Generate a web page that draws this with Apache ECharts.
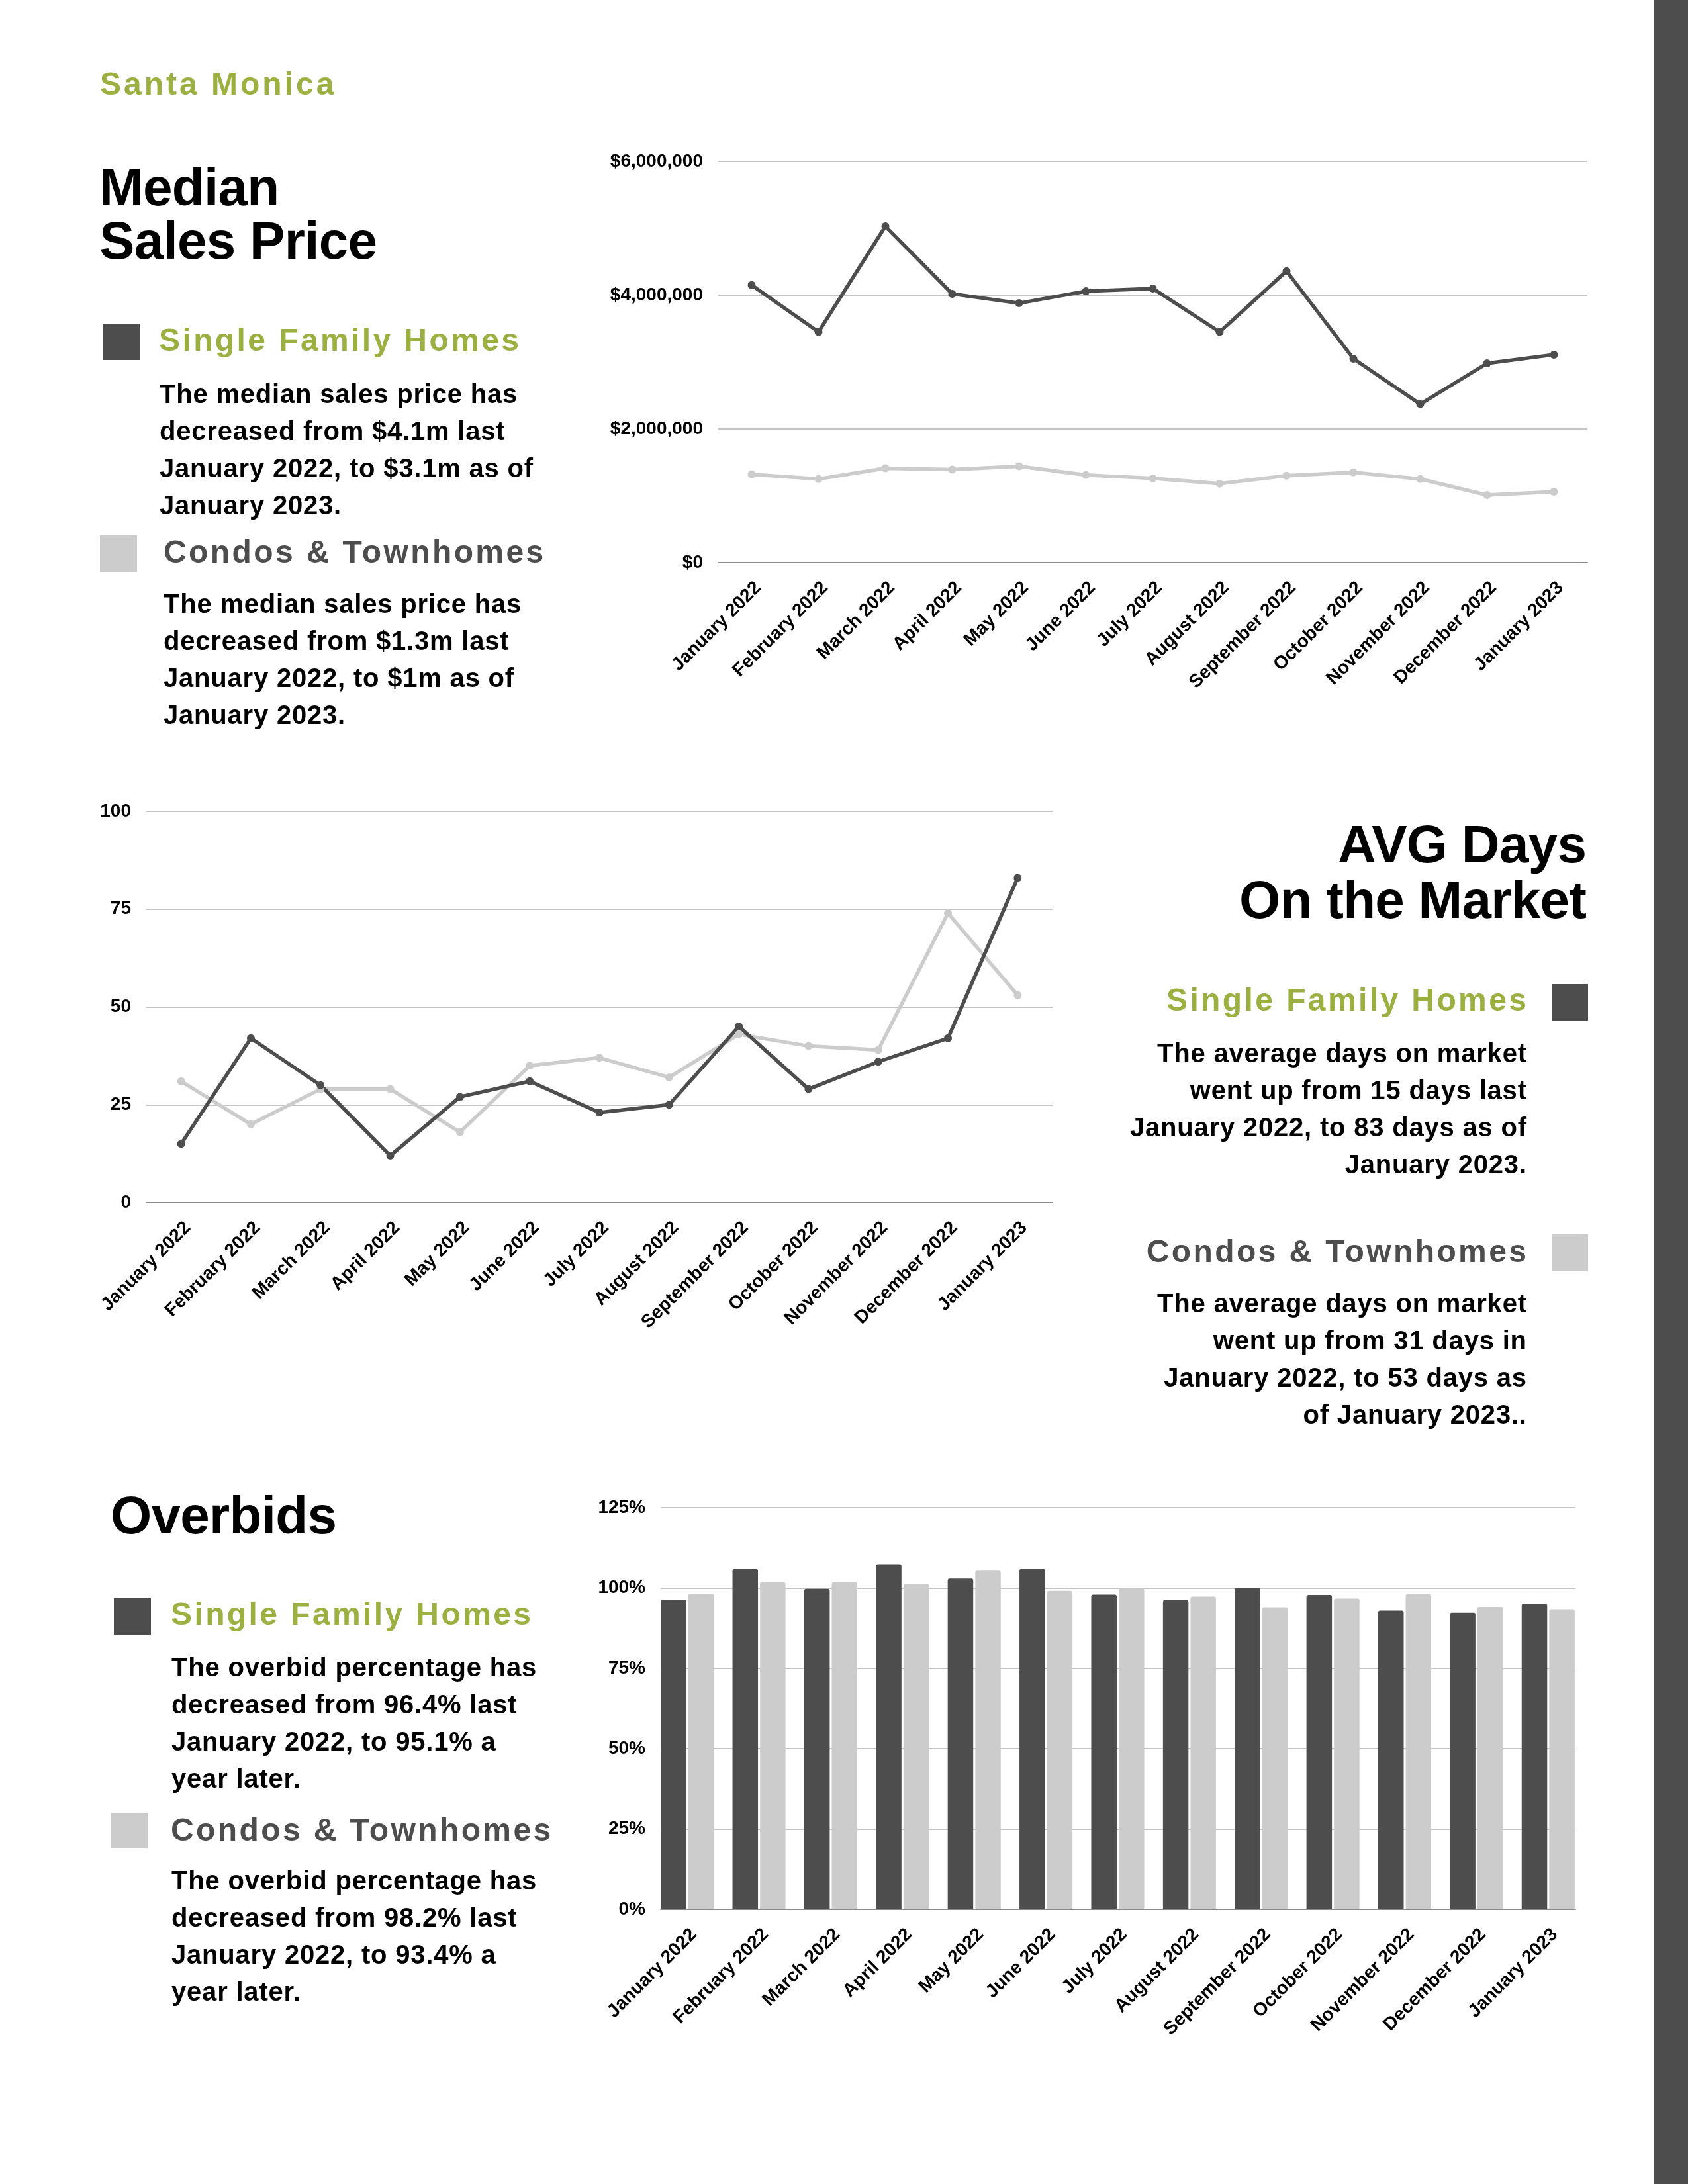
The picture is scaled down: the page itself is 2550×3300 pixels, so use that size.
<!DOCTYPE html>
<html><head><meta charset="utf-8">
<script src="https://cdn.jsdelivr.net/npm/echarts@6/dist/echarts.min.js"></script>
<style>
html,body{margin:0;padding:0;background:#fff;}
#page{position:relative;width:2550px;height:3300px;overflow:hidden;background:#fff;font-family:"Liberation Sans",Arial,Helvetica,sans-serif;}
#chart{position:absolute;left:0;top:0;width:2550px;height:3300px;}
.t{position:absolute;font-weight:bold;white-space:pre;}
#sidebar{position:absolute;left:2498px;top:0;width:52px;height:3300px;background:#4d4d4d;}
.sq{position:absolute;}
</style></head><body>
<div id="page"><div id="chart"></div><div id="sidebar"></div></div>
<script>
// ---- data ----
const months = ['January 2022','February 2022','March 2022','April 2022','May 2022','June 2022','July 2022','August 2022','September 2022','October 2022','November 2022','December 2022','January 2023'];
const sfhPrice   = [4150000,3450000,5030000,4020000,3880000,4060000,4100000,3450000,4360000,3050000,2370000,2980000,3110000];
const condoPrice = [1320000,1250000,1410000,1390000,1440000,1310000,1260000,1180000,1300000,1350000,1250000,1010000,1060000];
const sfhDays    = [15,42,30,12,27,31,23,25,45,29,36,42,83];
const condoDays  = [31,20,29,29,18,35,37,32,43,40,39,74,53];
const sfhOverbid   = [96.4,105.9,99.7,107.4,102.9,105.9,97.9,96.2,100.0,97.8,93.0,92.3,95.1];
const condoOverbid = [98.2,101.8,101.8,101.2,105.4,99.1,99.8,97.3,94.0,96.7,98.1,94.1,93.4];
const priceTicks = [0,2000000,4000000,6000000];
const dayTicks = [0,25,50,75,100];
const overbidTicks = [0,25,50,75,100,125];

const DARK = '#4d4d4d', LIGHT = '#cccccc', GREEN = '#9bb040';
const page = document.getElementById('page');

function addText(lines, o){
  const d = document.createElement('div');
  d.className = 't';
  const lh = o.lh || Math.round(o.size*1.1);
  d.style.fontSize = o.size+'px';
  d.style.lineHeight = lh+'px';
  d.style.color = o.color || '#000';
  d.style.letterSpacing = (o.ls||0)+'px';
  d.style.top = (o.baseline - (lh/2 + 0.3465*o.size))+'px';
  if(o.align === 'right'){
    d.style.right = (2550 - o.x)+'px';
    d.style.textAlign = 'right';
    d.style.marginRight = (-(o.ls||0))+'px';
  } else {
    d.style.left = o.x+'px';
  }
  d.innerHTML = lines.join('<br>');
  page.appendChild(d);
}
function addSquare(x,y,w,h,color){
  const d = document.createElement('div');
  d.className='sq';
  d.style.left=x+'px'; d.style.top=y+'px'; d.style.width=w+'px'; d.style.height=h+'px'; d.style.background=color;
  page.appendChild(d);
}

const H = {size:48, ls:3.4};
const B = {size:40, lh:56, ls:0.8};
const T = {size:80, ls:-0.7};

// header & section 1
addText(['Santa Monica'], {x:151, baseline:143, size:48, ls:4, color:GREEN});
addText(['Median','Sales Price'], Object.assign({x:150, baseline:310, lh:81}, T));
addSquare(155,489,56,55,DARK);
addText(['Single Family Homes'], Object.assign({x:240, baseline:530, color:GREEN}, H));
addText(['The median sales price has','decreased from $4.1m last','January 2022, to $3.1m as of','January 2023.'], Object.assign({x:241, baseline:609}, B));
addSquare(151,809,56,55,LIGHT);
addText(['Condos & Townhomes'], Object.assign({x:247, baseline:850, color:DARK}, H));
addText(['The median sales price has','decreased from $1.3m last','January 2022, to $1m as of','January 2023.'], Object.assign({x:247, baseline:926}, B));

// section 2
addText(['AVG Days'], Object.assign({x:2397, baseline:1304, align:'right'}, T));
addText(['On the Market'], Object.assign({x:2397, baseline:1388, align:'right'}, T));
addSquare(2344,1487,55,55,DARK);
addText(['Single Family Homes'], Object.assign({x:2306, baseline:1527, color:GREEN, align:'right'}, H));
addText(['The average days on market','went up from 15 days last','January 2022, to 83 days as of','January 2023.'], Object.assign({x:2306, baseline:1605, align:'right'}, B));
addSquare(2344,1865,55,56,LIGHT);
addText(['Condos & Townhomes'], Object.assign({x:2306, baseline:1907, color:DARK, align:'right'}, H));
addText(['The average days on market','went up from 31 days in','January 2022, to 53 days as','of January 2023..'], Object.assign({x:2306, baseline:1983, align:'right'}, B));

// section 3
addText(['Overbids'], Object.assign({x:167, baseline:2318}, T));
addSquare(172,2415,56,55,DARK);
addText(['Single Family Homes'], Object.assign({x:258, baseline:2455, color:GREEN}, H));
addText(['The overbid percentage has','decreased from 96.4% last','January 2022, to 95.1% a','year later.'], Object.assign({x:259, baseline:2533}, B));
addSquare(168,2739,55,54,LIGHT);
addText(['Condos & Townhomes'], Object.assign({x:258, baseline:2781, color:DARK}, H));
addText(['The overbid percentage has','decreased from 98.2% last','January 2022, to 93.4% a','year later.'], Object.assign({x:259, baseline:2855}, B));

// ---- chart ----
const chart = echarts.init(document.getElementById('chart'), null, {renderer:'canvas', width:2550, height:3300});
const lbl = {fontFamily:'Liberation Sans', fontWeight:'bold', color:'#000'};
const gridLine = {lineStyle:{color:'#c4c4c4', width:2}};
const baseLine = {show:true, lineStyle:{color:'#8a8a8a', width:2}};
function catAxis(gi, showLabel, showLine){
  return {gridIndex:gi, type:'category', data:months, boundaryGap:true,
    axisTick:{show:false}, axisLine: showLine ? baseLine : {show:false},
    axisLabel: showLabel ? Object.assign({show:true, rotate:45, margin:24, fontSize:28, interval:0, verticalAlign:'top'}, lbl) : {show:false},
    splitLine:{show:false}};
}
function valAxis(gi, ticks, fmt, show){
  return {gridIndex:gi, type:'value', min:ticks[0], max:ticks[ticks.length-1], interval:ticks[1]-ticks[0], show:show,
    axisLine:{show:false}, axisTick:{show:false},
    axisLabel:Object.assign({show:show, margin:23, fontSize:28, formatter:fmt}, lbl),
    splitLine: show ? gridLine : {show:false}};
}
const gridBase = {containLabel:false, outerBoundsMode:'none'};
const lineSeries = (name, data, color, xi, yi) => ({
  name, type:'line', data, xAxisIndex:xi, yAxisIndex:yi, symbol:'circle', symbolSize:12,
  lineStyle:{color, width:5.5}, itemStyle:{color}, z:3, silent:true
});
chart.setOption({
  animation:false,
  backgroundColor:'transparent',
  grid:[
    Object.assign({left:1085, top:244, width:1313, height:606}, gridBase),
    Object.assign({left:221, top:1226, width:1369, height:591}, gridBase),
    Object.assign({left:998, top:2278, width:1382, height:607}, gridBase),
    Object.assign({left:984, top:2278, width:1409, height:607}, gridBase)
  ],
  xAxis:[catAxis(0,true,true), catAxis(1,true,true), catAxis(2,false,true), catAxis(3,true,false)],
  yAxis:[
    valAxis(0, priceTicks, v => '$' + Number(v).toLocaleString('en-US'), true),
    valAxis(1, dayTicks, v => String(v), true),
    valAxis(2, overbidTicks, v => v + '%', true),
    valAxis(3, overbidTicks, v => v + '%', false)
  ],
  series:[
    lineSeries('Condos & Townhomes', condoPrice, LIGHT, 0, 0),
    lineSeries('Single Family Homes', sfhPrice, DARK, 0, 0),
    lineSeries('Condos & Townhomes', condoDays, LIGHT, 1, 1),
    lineSeries('Single Family Homes', sfhDays, DARK, 1, 1),
    {name:'Single Family Homes', type:'bar', data:sfhOverbid, xAxisIndex:3, yAxisIndex:3, barWidth:38.5, barGap:'8%', itemStyle:{color:DARK, borderRadius:[3,3,0,0]}},
    {name:'Condos & Townhomes', type:'bar', data:condoOverbid, xAxisIndex:3, yAxisIndex:3, barWidth:38.5, barGap:'8%', itemStyle:{color:LIGHT, borderRadius:[3,3,0,0]}}
  ]
});
</script>
</body></html>
